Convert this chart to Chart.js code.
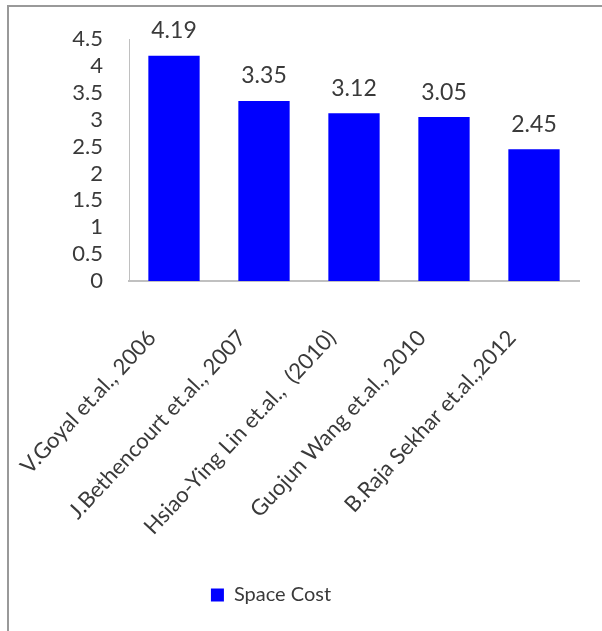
<!DOCTYPE html>
<html>
<head>
<meta charset="utf-8">
<script src="https://cdn.jsdelivr.net/npm/chart.js@4"></script>
<style>
    html, body { margin: 0; padding: 0; background: #fff; overflow: hidden; }
    #frame {
        position: absolute; left: 7px; top: 5px; width: 640px; height: 660px;
        border-left: 2px solid #999; border-top: 2px solid #999;
    }
    #wrap { position: absolute; left: 0; top: 0; width: 602px; height: 631px; }
</style>
</head>
<body>
<div id="frame"></div>
<div id="wrap"><canvas id="spaceChart" width="602" height="631"></canvas></div>
<script>
const categories = [
    'V.Goyal et.al., 2006',
    'J.Bethencourt et.al., 2007',
    'Hsiao-Ying Lin et.al.,  (2010)',
    'Guojun Wang et.al., 2010',
    'B.Raja Sekhar et.al.,2012'
];
const spaceCost = [4.19, 3.35, 3.12, 3.05, 2.45];
const yTicks = [0, 0.5, 1, 1.5, 2, 2.5, 3, 3.5, 4, 4.5];

const FONT = 'Lato, "Open Sans", sans-serif';
const TEXT = '#3a3a3a';

// value labels above each bar
const barValues = {
    id: 'barValues',
    afterDatasetsDraw(chart) {
        const ctx = chart.ctx;
        const meta = chart.getDatasetMeta(0);
        ctx.save();
        ctx.font = '23px ' + FONT;
        ctx.fillStyle = TEXT;
        ctx.textAlign = 'center';
        ctx.textBaseline = 'middle';
        meta.data.forEach((bar, i) => {
            ctx.fillText(spaceCost[i].toFixed(2), bar.x, bar.y - 25);
        });
        ctx.restore();
    }
};

// Excel places the legend left of centre
const shiftLegend = {
    id: 'shiftLegend',
    afterLayout(chart) {
        chart.legend.right = chart.legend.left + 542;
    }
};

new Chart(document.getElementById('spaceChart'), {
    type: 'bar',
    data: {
        labels: categories,
        datasets: [{
            label: 'Space Cost',
            data: spaceCost,
            backgroundColor: '#0000ff',
            borderWidth: 0,
            barPercentage: 0.57,
            categoryPercentage: 1
        }]
    },
    options: {
        responsive: false,
        animation: false,
        layout: { padding: { left: 0, right: 23, top: 37, bottom: 16 } },
        scales: {
            x: {
                grid: { display: false, drawTicks: false },
                border: { color: '#c0c0c0', width: 2 },
                ticks: {
                    minRotation: 47,
                    maxRotation: 47,
                    autoSkip: false,
                    padding: 44,
                    labelOffset: -22,
                    color: TEXT,
                    font: { family: FONT, size: 22 }
                },
                afterFit: (scale) => {
                    scale.height = 294;
                    scale.paddingLeft = 0;
                    scale.paddingRight = 0;
                }
            },
            y: {
                min: 0,
                max: 4.5,
                afterBuildTicks: (scale) => { scale.ticks = yTicks.map(v => ({ value: v })); },
                grid: { display: false, drawTicks: false },
                border: { color: '#c0c0c0', width: 1 },
                ticks: {
                    autoSkip: false,
                    padding: 26,
                    color: TEXT,
                    font: { family: FONT, size: 22 },
                    callback: (v) => String(v)
                },
                afterFit: (scale) => { scale.width = 129; }
            }
        },
        plugins: {
            legend: {
                position: 'bottom',
                labels: {
                    boxWidth: 13,
                    boxHeight: 13,
                    padding: 10,
                    color: TEXT,
                    font: { family: FONT, size: 20 }
                }
            },
            tooltip: { enabled: false }
        }
    },
    plugins: [barValues, shiftLegend]
});
</script>
</body>
</html>
